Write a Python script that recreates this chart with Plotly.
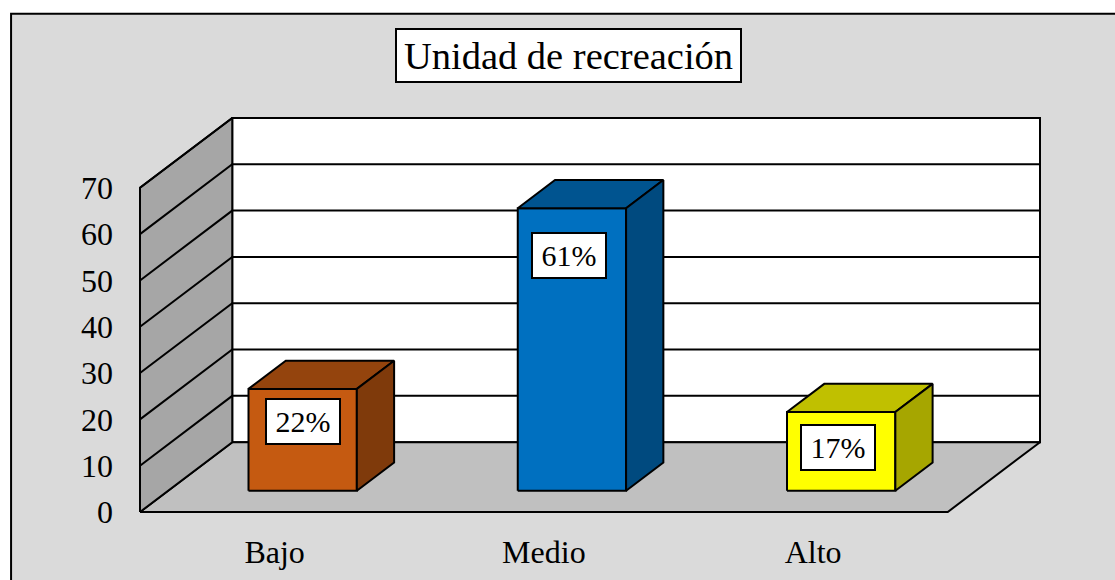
import plotly.graph_objects as go

categories = ["Bajo", "Medio", "Alto"]
values = [22, 61, 17]
labels = ["22%", "61%", "17%"]
y_ticks = [0, 10, 20, 30, 40, 50, 60, 70]

front_colors = ["#C55A11", "#0070C0", "#FFFF00"]
top_colors = ["#94440D", "#005490", "#C0C000"]
side_colors = ["#7F3A0B", "#004A7F", "#A6A600"]

FONT = "Liberation Serif"
EDGE = 2

# page pixels of the box, plus padding so that its edge lines are not clipped
LEFT, RIGHT, TOP, BOTTOM = 140, 1040.5, 117.5, 512.5
PAD = 4
PX_PER_CAT = 269.4
PX_PER_UNIT = 4.643

# depth of the fake 3d box, in axis units
DEPTH_X = 92.3 / PX_PER_CAT
DEPTH_Y = 70 / PX_PER_UNIT
BAR_W = 108.4 / PX_PER_CAT
BAR_NEAR = 0.304   # share of the depth in front of the bars
BAR_FAR = 0.708    # share of the depth at the back of the bars

# label box nudges in pixels, relative to the bar front
label_dx = [0, -3, -3]
label_drop = [33, 47, 35]


def poly(xs, ys, fill, line_width=EDGE):
    return go.Scatter(
        x=xs + xs[:1],
        y=ys + ys[:1],
        mode="lines",
        fill="toself",
        fillcolor=fill,
        line=dict(color="black", width=line_width),
        showlegend=False,
        hoverinfo="skip",
    )


fig = go.Figure()

x0 = -0.5
x1 = len(categories) - 0.5
top = max(y_ticks)

# back wall, floor, left wall
fig.add_trace(poly([x0 + DEPTH_X, x1 + DEPTH_X, x1 + DEPTH_X, x0 + DEPTH_X],
                   [DEPTH_Y, DEPTH_Y, top + DEPTH_Y, top + DEPTH_Y], "white"))
fig.add_trace(poly([x0, x1, x1 + DEPTH_X, x0 + DEPTH_X],
                   [0, 0, DEPTH_Y, DEPTH_Y], "#C0C0C0"))
fig.add_trace(poly([x0, x0 + DEPTH_X, x0 + DEPTH_X, x0],
                   [0, DEPTH_Y, top + DEPTH_Y, top], "#A6A6A6"))

# gridlines run along the left wall and then the back wall
for v in y_ticks[1:]:
    fig.add_trace(go.Scatter(
        x=[x0, x0 + DEPTH_X, x1 + DEPTH_X],
        y=[v, v + DEPTH_Y, v + DEPTH_Y],
        mode="lines",
        line=dict(color="black", width=EDGE),
        showlegend=False,
        hoverinfo="skip",
    ))

annotations = []

for i, v in enumerate(values):
    near_x = DEPTH_X * BAR_NEAR
    near_y = DEPTH_Y * BAR_NEAR
    far_x = DEPTH_X * BAR_FAR
    far_y = DEPTH_Y * BAR_FAR
    center = i + near_x
    xl = center - BAR_W / 2
    xr = center + BAR_W / 2
    shift_x = far_x - near_x

    # front
    fig.add_trace(poly([xl, xr, xr, xl],
                       [near_y, near_y, near_y + v, near_y + v], front_colors[i]))
    # top
    fig.add_trace(poly([xl, xr, xr + shift_x, xl + shift_x],
                       [near_y + v, near_y + v, far_y + v, far_y + v], top_colors[i]))
    # side
    fig.add_trace(poly([xr, xr + shift_x, xr + shift_x, xr],
                       [near_y, far_y, far_y + v, near_y + v], side_colors[i]))

    annotations.append(dict(
        x=center,
        y=near_y + v,
        xref="x",
        yref="y",
        xshift=label_dx[i],
        yshift=-label_drop[i],
        text=labels[i],
        showarrow=False,
        font=dict(family=FONT, size=30, color="black"),
        bgcolor="white",
        bordercolor="black",
        borderwidth=2,
        borderpad=0,
        width=72,
        height=43,
        align="center",
        valign="middle",
    ))

# plot area including the padding
area_l = LEFT - PAD
area_r = RIGHT + PAD
area_t = TOP - PAD
area_b = BOTTOM + PAD
plot_w = area_r - area_l
plot_h = area_b - area_t

# chart title in its box
annotations.append(dict(
    x=(568.5 - area_l) / plot_w,
    y=(area_b - 54.5) / plot_h,
    xref="paper",
    yref="paper",
    xanchor="center",
    yanchor="middle",
    text="Unidad de recreación",
    showarrow=False,
    font=dict(family=FONT, size=38.5, color="black"),
    bgcolor="white",
    bordercolor="black",
    borderwidth=2,
    borderpad=0,
    width=343,
    height=51,
    align="center",
    valign="middle",
))

fig.update_layout(
    width=1115,
    height=580,
    margin=dict(l=area_l, r=1115 - area_r, t=area_t, b=580 - area_b, autoexpand=False),
    paper_bgcolor="white",
    plot_bgcolor="rgba(0,0,0,0)",
    showlegend=False,
    annotations=annotations,
    shapes=[dict(
        type="rect",
        xref="paper",
        yref="paper",
        x0=(11 - area_l) / plot_w,
        x1=(1118 - area_l) / plot_w,
        y0=(area_b - 583) / plot_h,
        y1=(area_b - 13) / plot_h,
        fillcolor="#DADADA",
        line=dict(color="black", width=2),
        layer="below",
    )],
    xaxis=dict(
        range=[x0 - PAD / PX_PER_CAT, x0 + (plot_w - PAD) / PX_PER_CAT],
        tickvals=list(range(len(categories))),
        ticktext=categories,
        showgrid=False,
        zeroline=False,
        showline=False,
        ticks="",
        ticklabelstandoff=14,
        tickfont=dict(family=FONT, size=32, color="black"),
    ),
    yaxis=dict(
        range=[-PAD / PX_PER_UNIT, (plot_h - PAD) / PX_PER_UNIT],
        tickvals=y_ticks,
        showgrid=False,
        zeroline=False,
        showline=False,
        ticks="",
        ticklabelstandoff=22,
        tickfont=dict(family=FONT, size=32, color="black"),
    ),
)

# the default page has an 8px body margin which would shift the chart
fig.write_html(
    "out.html",
    config=dict(displayModeBar=False),
    post_script="document.body.style.margin='0';document.documentElement.style.overflow='hidden';",
)
